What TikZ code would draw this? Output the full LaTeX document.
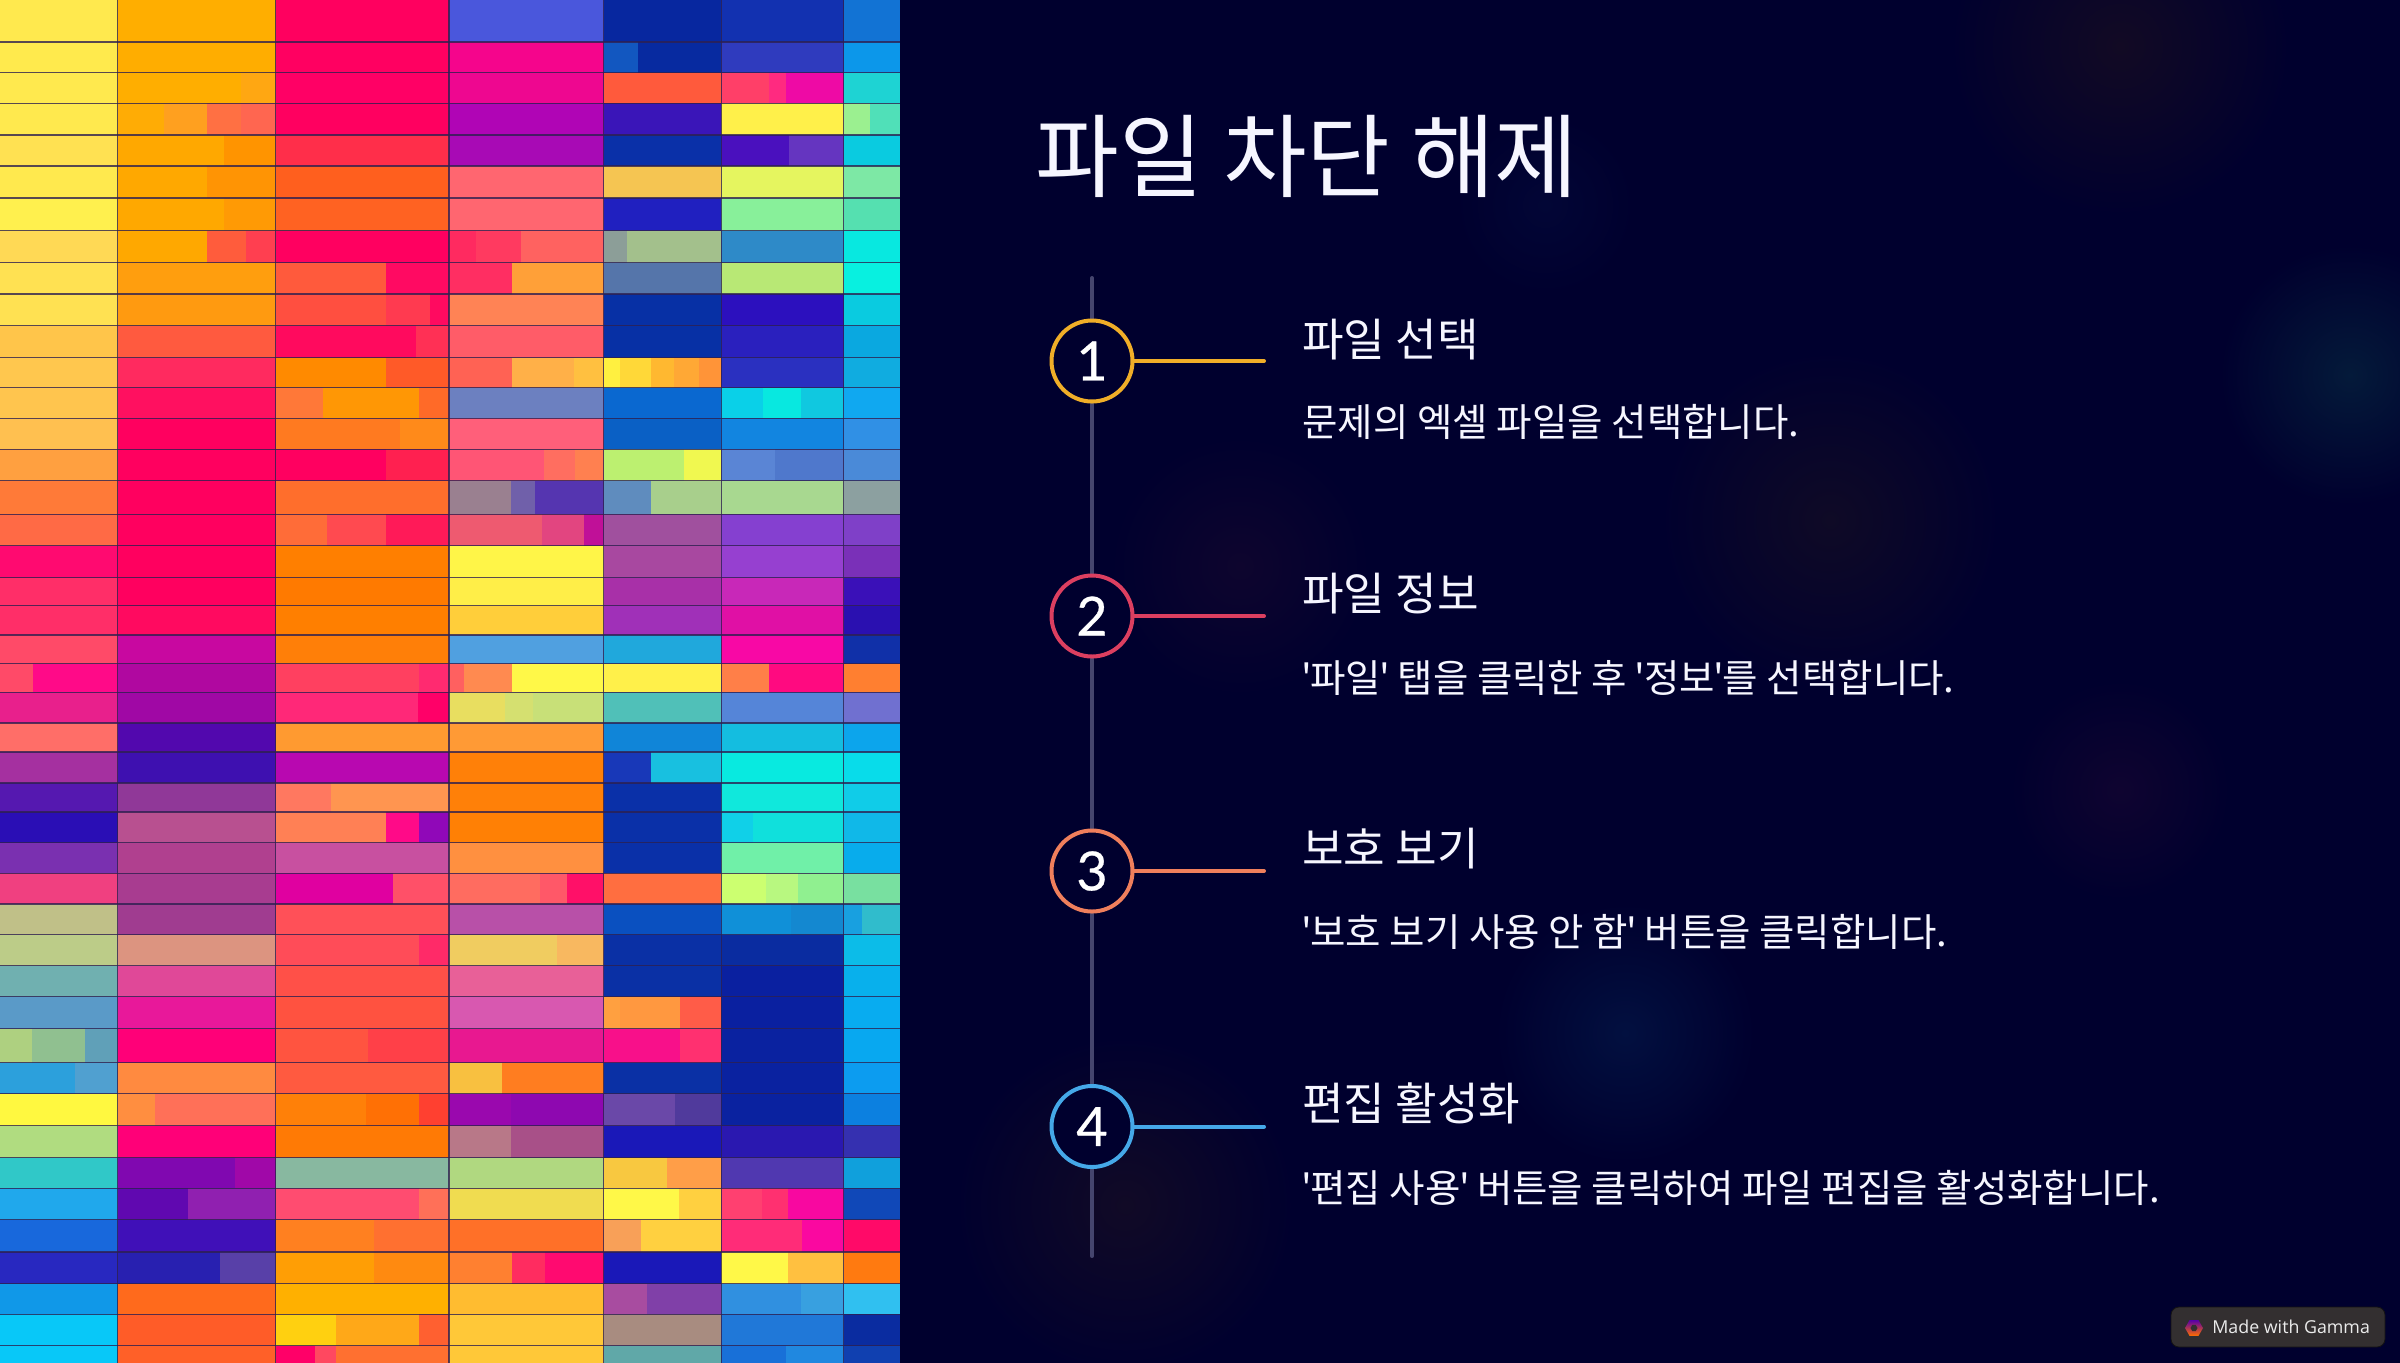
\documentclass[tikz,border=0pt]{standalone}
\usepackage{fontspec}
\setmainfont{Lato}
\newfontfamily\kr{Noto Sans CJK KR}
\newfontfamily\badgefont{Open Sans}
\newfontfamily\numfont[FakeBold=0.5]{Lato}
\usetikzlibrary{shapes.geometric}
\definecolor{bgnavy}{HTML}{00002E}
\definecolor{stemc}{HTML}{45456E}
\definecolor{inkc}{HTML}{F6F6FF}
\definecolor{stepa}{HTML}{F0AE28}
\definecolor{stepb}{HTML}{DC3F60}
\definecolor{stepc}{HTML}{EF7F5C}
\definecolor{stepd}{HTML}{45A8E8}
\definecolor{gridc}{HTML}{2E2050}
\definecolor{badgec}{HTML}{332F30}
\newcommand\Rw[3]{\gdef\xS{0}\foreach \xE/\cL in {#3}{\definecolor{cc}{HTML}{\cL}\fill[cc] (\xS,#1) rectangle (\xE,#2);\global\let\xS\xE}}
\newcommand\glow[4]{\definecolor{gg}{HTML}{#4}\shade[inner color=gg,outer color=bgnavy] (#1,#2) circle (#3);}
\newcommand\ap{\kern-.7pt'\kern-.7pt}
\tikzset{
 gridline/.style={gridc,opacity=.8,line width=.65pt},
 numcircle/.style={circle,draw=#1,line width=2pt,fill=bgnavy,text=white,minimum size=40.5pt,inner sep=0pt,font=\numfont\fontsize{27}{30}\selectfont},
 tick/.style={draw=#1,line width=2pt,line cap=round},
 stem/.style={draw=stemc,line width=2pt,line cap=round},
 titletext/.style={anchor=base west,inner sep=0pt,text=inkc,font=\kr\fontsize{45.5}{54}\selectfont},
 headtext/.style={anchor=base west,inner sep=0pt,text=inkc,font=\kr\fontsize{22.6}{27}\selectfont},
 bodytext/.style={anchor=base west,inner sep=0pt,text=inkc,font=\kr\fontsize{19.25}{23}\selectfont},
}
\begin{document}
\begin{tikzpicture}[x=0.5pt,y=-0.5pt]
\useasboundingbox (0,0) rectangle (2400,1362);
\fill[bgnavy] (-10,-10) rectangle (2410,1372);
\glow{2120}{46}{170}{120A24}
\glow{2350}{375}{130}{041A3A}
\glow{1830}{520}{170}{0F0A26}
\glow{1240}{566}{130}{0E052E}
\glow{2120}{790}{110}{0F0430}
\glow{1625}{1033}{130}{021040}
\glow{1125}{1205}{170}{110A26}
\glow{1545}{205}{90}{020636}
\begin{scope}[x=0.28699pt]
\Rw{0}{42}{205/FFE94E,480/FFAE00,782/FF005F,1052/4A57DC,1257/07279F,1470/1231B0,1568/1273D4}
\Rw{42}{72.5}{205/FFEA4D,480/FFAD00,782/FF0061,1052/F5058C,1112/1257C0,1257/072AA0,1470/2F3BBE,1568/0C97EA}
\Rw{72.5}{103.4}{205/FFE94E,420/FFAE00,480/FFA712,782/FF0065,1052/EE0790,1257/FF5A3C,1340/FF3F68,1370/FF2A80,1470/EE0AA5,1568/1ED3D3}
\Rw{103.4}{135}{205/FFE94E,285/FFAC05,360/FFA01F,420/FF7043,480/FF6650,782/FF0060,1052/B005B5,1257/3A15B8,1470/FFF04A,1515/9BF090,1568/50E0B8}
\Rw{135}{166}{205/FFE152,390/FFA800,480/FF9400,782/FF2E4A,1052/A80AB5,1257/0A30A8,1375/4A10BE,1470/6535C0,1568/0ACBE0}
\Rw{166}{198}{205/FFE94E,360/FFA800,480/FF9404,782/FF5F1E,1052/FF6670,1257/F5C552,1470/E5F55F,1568/7DE8A5}
\Rw{198}{230.7}{205/FFF04E,390/FFA800,480/FF9A05,782/FF6222,1052/FF6670,1257/2020C0,1470/88F09A,1568/55E0B0}
\Rw{230.7}{262.8}{205/FFD955,360/FFA800,428/FF5C3C,480/FF3F50,782/FF0060,830/FF2A60,908/FF3A60,1052/FF6260,1092/8C9E98,1257/A3C08C,1470/2E8AC8,1568/08E8E0}
\Rw{262.8}{294}{205/FFE152,480/FF9E0E,672/FF5A3C,782/FF0A62,892/FF2E62,1052/FFA038,1257/5575AA,1470/B8E875,1568/08F0E0}
\Rw{294}{325.8}{205/FFE152,480/FF9A10,672/FF4F40,750/FF3A50,782/FF0A60,1052/FF8355,1257/0730A5,1470/2C10BE,1568/0ACBE0}
\Rw{325.8}{357.5}{205/FFC54A,480/FF5A3F,725/FF0A5E,782/FF3055,1052/FF5C68,1257/0730A5,1470/2A20BE,1568/0AA8E0}
\Rw{357.5}{387.5}{205/FFC74E,480/FF2A5F,672/FF8A00,782/FF5A28,892/FF6254,1000/FFB048,1052/FFC040,1080/FFF040,1135/FFD838,1175/FFB830,1217/FFA835,1257/FF9438,1470/2A30C0,1568/10ACE0}
\Rw{387.5}{418.3}{205/FFC54E,480/FF1060,562/FF7838,730/FF9705,782/FF6A28,1052/6C80C0,1257/0A68D0,1330/0AD0E8,1395/08E8E0,1470/10C8E0,1568/10A8F0}
\Rw{418.3}{449.2}{205/FFC050,480/FF005F,697/FF7A20,782/FF8A1A,1052/FF5F7A,1257/0A60C5,1470/1285E0,1568/3090E5}
\Rw{449.2}{480.5}{205/FFA040,480/FF005F,672/FF0060,782/FF2050,948/FF5575,1002/FF6E60,1052/FF8050,1192/BCF070,1257/F0F850,1350/5A85D5,1470/4F78CC,1568/4A8AD8}
\Rw{480.5}{514.3}{205/FF7A38,480/FF005F,782/FF6E2C,890/9A8090,932/7060AA,1052/5535B0,1134/5F8CBE,1257/A8CF8C,1470/A8D890,1568/8CA0A0}
\Rw{514.3}{545.6}{205/FF6A45,480/FF005F,570/FF6C38,672/FF4A50,782/FF1A58,945/EE5A70,1017/E24580,1052/C01098,1257/A0509E,1470/8540D0,1568/7F40C8}
\Rw{545.6}{577.8}{205/FF0A70,480/FF005F,782/FF7F00,1052/FFF548,1257/A848A0,1470/9640D0,1568/7A30B8}
\Rw{577.8}{605.6}{205/FF2E68,480/FF005F,782/FF7A00,1052/FFEE48,1257/A830A8,1470/C828B8,1568/3A10B8}
\Rw{605.6}{635}{205/FF2E68,480/FF0A60,782/FF7F00,1052/FFCE3A,1257/A030B8,1470/E010A5,1568/2A10B0}
\Rw{635}{663.8}{205/FF4A68,480/C808A0,782/FF7F08,1052/50A0E0,1257/20A8DC,1470/F808A5,1568/1030A8}
\Rw{663.8}{692.3}{58/FF4A68,205/FF0A88,480/B008A0,730/FF4060,782/FF2A70,808/FF6060,892/FF8A50,1052/FFF848,1257/FFF04A,1340/FF7F48,1470/FF0A80,1568/FF7F30}
\Rw{692.3}{723}{205/E8208C,480/A008A5,728/FF2878,782/FF0068,880/E8DE60,928/D5E070,1052/C8E078,1257/50C0B8,1470/5585D8,1568/7070D0}
\Rw{723}{752}{205/FF6E68,480/5208AE,782/FF9A30,1052/FF9A35,1257/1085D8,1470/14BDE0,1568/0CA5EC}
\Rw{752}{783}{205/A530A0,480/3E10B0,782/B808B0,1052/FF8008,1134/1838B8,1257/18C0E0,1470/08EAE0,1568/08DCEA}
\Rw{783}{812}{205/5518B0,480/903898,576/FF7860,782/FF9550,1052/FF8008,1257/0A30A8,1470/10E8DC,1568/10CCE8}
\Rw{812}{842.6}{205/2A0EB5,480/B85090,672/FF8055,730/FF0A88,782/9008B8,1052/FF8005,1257/0A30A8,1312/10D0E8,1470/10E0DC,1568/10B8E8}
\Rw{842.6}{873.4}{205/7A30B0,480/B0408F,782/C850A0,1052/FF9040,1257/0A30A8,1470/70F0A8,1568/08ACEC}
\Rw{873.4}{904}{205/F04080,480/A83C90,685/E000A0,782/FF5068,940/FF6C60,988/FF5868,1052/FF1068,1257/FF6E40,1335/CCFF70,1390/B8F880,1470/90F090,1568/78E0A0}
\Rw{904}{934.7}{205/C0C088,480/A03C90,782/FF5058,1052/B850A8,1257/0A50C0,1378/1090D8,1470/1488D0,1502/18A0E0,1568/30BCCC}
\Rw{934.7}{965.5}{205/BCCC88,480/DC9480,730/FF4C58,782/FF2A68,970/F0CC60,1052/F8B860,1257/0A30A5,1470/0A2CA0,1568/0CBCE8}
\Rw{965.5}{996.8}{205/70B0B0,480/E04898,782/FF5048,1052/E86098,1257/0A30A5,1470/0A20A0,1568/08B0EC}
\Rw{996.8}{1028.5}{205/5A9AC8,480/E8189A,782/FF5240,1052/D858B0,1080/FFA040,1185/FF9840,1257/FF5C48,1470/0A20A0,1568/08ACF0}
\Rw{1028.5}{1062.8}{55/AED080,148/90C090,205/60A0B8,480/FF0078,642/FF5440,782/FF4048,1052/E81890,1185/F8108A,1257/FF3070,1470/0A22A0,1568/08A8F0}
\Rw{1062.8}{1093.7}{130/2CA0DC,205/50A0D0,480/FF8A40,782/FF5A40,875/F8C040,1052/FF7D20,1257/0A30A5,1470/0A22A0,1568/0C9CF0}
\Rw{1093.7}{1125.8}{205/FFF840,270/FF8E40,480/FF7058,638/FF8008,730/FF7005,782/FF4030,890/9A08AE,1052/8E08B0,1176/6A48A8,1257/503A9C,1470/0A22A0,1568/0C80E0}
\Rw{1125.8}{1157.5}{205/B0DC80,480/FF0078,782/FF7A05,890/B87888,1052/A85088,1257/1A18B8,1470/2A18B0,1568/3530B0}
\Rw{1157.5}{1188.4}{205/30C8C8,410/8008B0,480/A008A8,782/88B8A0,1052/B0D880,1162/F8C840,1257/FF9E48,1470/5038B0,1568/10A0DC}
\Rw{1188.4}{1219.7}{205/20A8EC,328/6008B0,480/9020B0,730/FF4C70,782/FF7058,1052/F0DC50,1183/FFF848,1257/FFD040,1328/FF4070,1372/FF3070,1470/F808A0,1568/1048B8}
\Rw{1219.7}{1252}{205/1868DC,480/4010B8,652/FF8020,782/FF7030,1052/FF7028,1116/F8A058,1257/FFD040,1398/FF2C78,1470/FA08A0,1568/FF0A68}
\Rw{1252}{1283.5}{205/2828C0,383/2820B0,480/5840A8,652/FF9E05,782/FF8A10,892/FF8030,950/FF2C60,1052/FF0A70,1257/1A18B8,1372/FFF848,1470/FFC040,1568/FF7A10}
\Rw{1283.5}{1314.4}{205/1098E8,480/FF6A1C,782/FFB000,1052/FFBC30,1128/A84CA0,1257/8040A8,1395/3090E0,1470/38A0E0,1568/30C0F0}
\Rw{1314.4}{1345.6}{205/08C8F8,480/FF5C28,585/FFD010,730/FFA818,782/FF6030,1052/FFC838,1257/A88C80,1470/2078D8,1568/0A2CA0}
\Rw{1345.6}{1372}{205/08C8F8,480/FF6028,548/FF0068,585/FF4860,782/FF7030,1052/FFC838,1257/60A8A8,1370/1870D8,1470/2088E0,1568/1040B0}
\foreach \cx in {205,480,782,1052,1257,1470}{\draw[gridline] (\cx,0) -- (\cx,1372);}
\foreach \ry in {42,72.5,103.4,135,166,198,230.7,262.8,294,325.8,357.5,387.5,418.3,449.2,480.5,514.3,545.6,577.8,605.6,635,663.8,692.3,723,752,783,812,842.6,873.4,904,934.7,965.5,996.8,1028.5,1062.8,1093.7,1125.8,1157.5,1188.4,1219.7,1252,1283.5,1314.4,1345.6}{\draw[gridline] (0,\ry) -- (1568,\ry);}
\end{scope}

\node[titletext] (title) at (1035,190) {파일 차단 해제};

\coordinate (stemtop) at (1092,278);
\coordinate (stembot) at (1092,1256);
\draw[stem] (stemtop) -- (stembot);

\node[numcircle=stepa] (n1) at (1092,361) {1};
\node[numcircle=stepb] (n2) at (1092,616) {2};
\node[numcircle=stepc] (n3) at (1092,871) {3};
\node[numcircle=stepd] (n4) at (1092,1126.5) {4};
\coordinate (e1) at (1264,361);
\coordinate (e2) at (1264,616);
\coordinate (e3) at (1264,871);
\coordinate (e4) at (1264,1126.5);
\draw[tick=stepa] (n1.east) -- (e1);
\draw[tick=stepb] (n2.east) -- (e2);
\draw[tick=stepc] (n3.east) -- (e3);
\draw[tick=stepd] (n4.east) -- (e4);

\node[headtext] (h1) at (1302,356) {파일 선택};
\node[bodytext] (b1) at (1302,436) {문제의 엑셀 파일을 선택합니다.};
\node[headtext] (h2) at (1302,610) {파일 정보};
\node[bodytext] (b2) at (1302,692) {\ap 파일\ap\ 탭을 클릭한 후 \ap 정보\ap 를 선택합니다.};
\node[headtext] (h3) at (1302,865) {보호 보기};
\node[bodytext] (b3) at (1302,946) {\ap 보호 보기 사용 안 함\ap\ 버튼을 클릭합니다.};
\node[headtext] (h4) at (1302,1120) {편집 활성화};
\node[bodytext] (b4) at (1302,1202) {\ap 편집 사용\ap\ 버튼을 클릭하여 파일 편집을 활성화합니다.};

\node[draw=black!60!badgec,fill=badgec,rounded corners=4pt,minimum width=107pt,minimum height=20pt,inner sep=0pt] (badge) at (2278,1327) {};
\node[regular polygon,regular polygon sides=6,top color=violet!70!blue,bottom color=orange!85!red,minimum size=9pt,inner sep=0pt] (icon) at (2194,1328) {};
\node[regular polygon,regular polygon sides=6,fill=badgec,minimum size=3.5pt,inner sep=0pt] (iconb) at (2194,1328) {};
\node[anchor=base west,inner sep=0pt,text=white!92!black,font=\badgefont\fontsize{8.9}{10}\selectfont] (badgetext) at (2212,1333) {Made with Gamma};
\end{tikzpicture}
\end{document}
